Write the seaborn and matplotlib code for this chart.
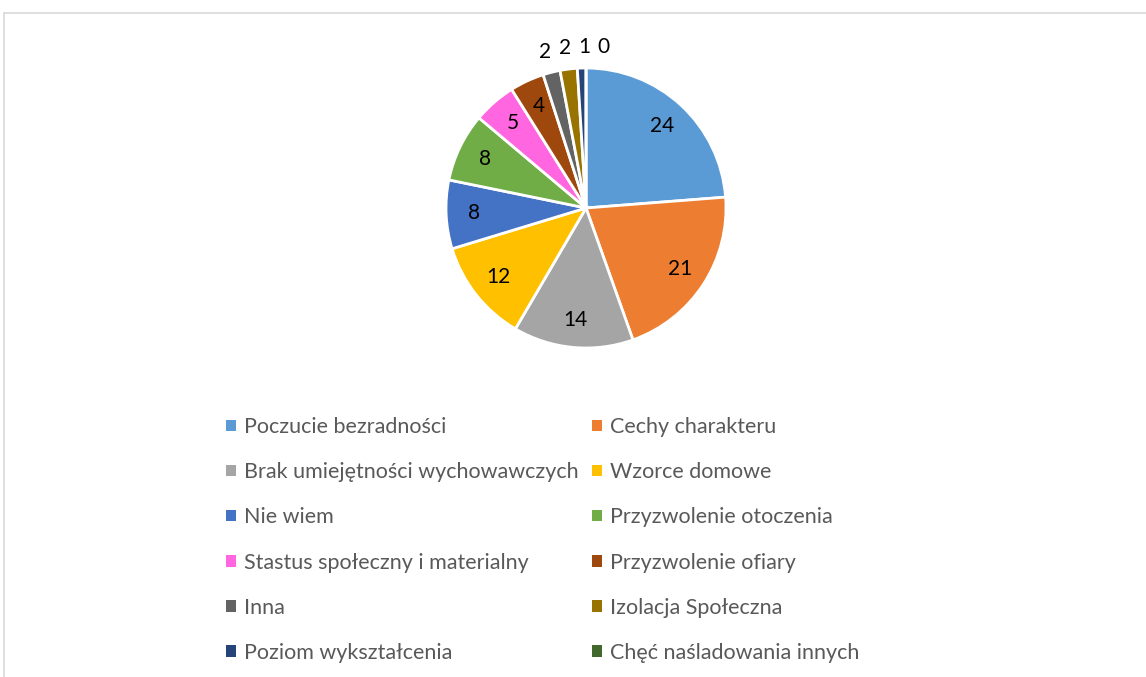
import matplotlib
matplotlib.use("Agg")
import matplotlib.pyplot as plt
from matplotlib.patches import Patch
from matplotlib.lines import Line2D
import numpy as np
import seaborn as sns

# Data
categories = [
    "Poczucie bezradności", "Cechy charakteru", "Brak umiejętności wychowawczych",
    "Wzorce domowe", "Nie wiem", "Przyzwolenie otoczenia",
    "Stastus społeczny i materialny", "Przyzwolenie ofiary", "Inna",
    "Izolacja Społeczna", "Poziom wykształcenia", "Chęć naśladowania innych",
]
values = [24, 21, 14, 12, 8, 8, 5, 4, 2, 2, 1, 0]
colors = ["#5B9BD5", "#ED7D31", "#A5A5A5", "#FFC000", "#4472C4", "#70AD47",
          "#FF66E0", "#9E480E", "#636363", "#997300", "#264478", "#43682B"]

sns.set_theme(style="white")
plt.rcParams['font.family'] = ['Lato', 'DejaVu Sans']

W, H = 1146, 677
fig = plt.figure(figsize=(W / 100, H / 100), dpi=100)

# chart area border (top and left visible)
fig.add_artist(Line2D([4 / W, 1], [1 - 13 / H, 1 - 13 / H], color="#D9D9D9", lw=1.2))
fig.add_artist(Line2D([4 / W, 4 / W], [1 - 13 / H, 0], color="#D9D9D9", lw=1.2))

cx, cy, r = 586, 208, 140
ax = fig.add_axes([(cx - r) / W, 1 - (cy + r) / H, 2 * r / W, 2 * r / H])
wedges, _ = ax.pie(values, colors=sns.color_palette(colors), startangle=90,
                   counterclock=False, radius=1,
                   wedgeprops=dict(edgecolor="white", linewidth=2))
ax.set_xlim(-1, 1)
ax.set_ylim(-1, 1)
ax.set_aspect("equal")
ax.axis("off")

# data labels: inside for big slices, outside (spread apart) for small ones
outside = []
for w, v in zip(wedges, values):
    ang = np.deg2rad((w.theta1 + w.theta2) / 2)
    if v >= 4:
        ax.text(0.8 * np.cos(ang), 0.8 * np.sin(ang), str(v), ha="center",
                va="center", fontsize=15, color="black")
    else:
        outside.append([1.2 * np.cos(ang), 1.15 * np.sin(ang), v])
outside.sort(key=lambda t: t[0])
for i in range(1, len(outside)):
    outside[i][0] = max(outside[i][0], outside[i - 1][0] + 0.135)
for x, y, v in outside:
    ax.text(x, y, str(v), ha="center", va="center", fontsize=15, color="black")

# legend, filled row by row
order = list(range(0, 12, 2)) + list(range(1, 12, 2))
handles = [Patch(facecolor=colors[i], edgecolor="none") for i in order]
labels = [categories[i] for i in order]
fig.legend(handles, labels, loc="upper left", bbox_to_anchor=(226 / W, 1 - 417 / H),
           ncol=2, frameon=False, fontsize=15.5, labelcolor="#595959",
           handlelength=0.45, handleheight=0.45, handletextpad=0.4,
           labelspacing=1.17, columnspacing=0.6, borderpad=0, borderaxespad=0)

fig.savefig("out.png", dpi=100)
